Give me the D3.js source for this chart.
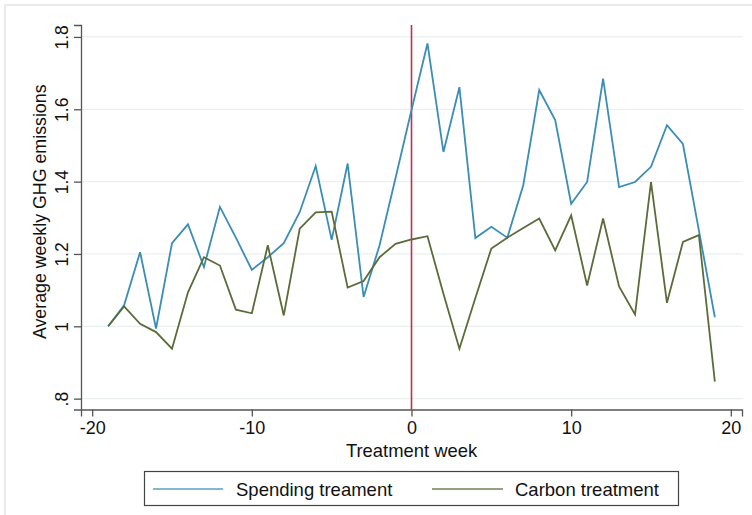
<!DOCTYPE html>
<html>
<head>
<meta charset="utf-8">
<script src="https://cdn.jsdelivr.net/npm/d3@7"></script>
<style>
  html, body { margin: 0; padding: 0; background: #fff; }
  svg { display: block; font-family: "Liberation Sans", Arial, sans-serif; }
</style>
</head>
<body>
<svg id="chart" width="752" height="515"></svg>
<script>
const weeks = d3.range(-19, 20);
const spending = [1.000, 1.058, 1.205, 0.994, 1.230, 1.282, 1.164, 1.330, 1.245, 1.156,
                  1.191, 1.230, 1.316, 1.443, 1.239, 1.450, 1.081, 1.224, 1.410, 1.598,
                  1.782, 1.482, 1.661, 1.244, 1.275, 1.245, 1.390, 1.653, 1.570, 1.339,
                  1.399, 1.685, 1.385, 1.399, 1.441, 1.556, 1.504, 1.265, 1.025];
const carbon = [1.000, 1.055, 1.007, 0.984, 0.938, 1.094, 1.191, 1.168, 1.046, 1.036,
                1.224, 1.030, 1.270, 1.315, 1.317, 1.107, 1.125, 1.191, 1.228, 1.240,
                1.249, 1.090, 0.938, 1.078, 1.215, 1.245, 1.272, 1.298, 1.210, 1.307,
                1.113, 1.298, 1.110, 1.033, 1.399, 1.065, 1.233, 1.252, 0.847];
const xTicks = [-20, -10, 0, 10, 20];
const xTickLabels = ["-20", "-10", "0", "10", "20"];
const yTicks = [0.8, 1.0, 1.2, 1.4, 1.6, 1.8];
const yTickLabels = [".8", "1", "1.2", "1.4", "1.6", "1.8"];
const seriesNames = ["Spending treament", "Carbon treatment"];
const seriesColors = ["#3b8db5", "#5b6b3a"];

const svg = d3.select("#chart");

// outer frame
svg.append("rect").attr("x", 5).attr("y", 5).attr("width", 800).attr("height", 600)
  .attr("fill", "none").attr("stroke", "#d6d6d6").attr("stroke-width", 1);

const x = d3.scaleLinear().domain([-20.7, 20.7]).range([81, 742]);
const y = d3.scaleLinear().domain([0.77, 1.833]).range([409.5, 25]);

// gridlines
svg.append("g").selectAll("line").data(yTicks).join("line")
  .attr("x1", 81).attr("x2", 743)
  .attr("y1", d => y(d)).attr("y2", d => y(d))
  .attr("stroke", "#eaeff2").attr("stroke-width", 1.2);

// x axis
const xAxis = svg.append("g").attr("transform", `translate(0,${y(0.77)})`)
  .call(d3.axisBottom(x).tickValues(xTicks).tickSize(7).tickPadding(5)
    .tickFormat((d, i) => xTickLabels[i]));
xAxis.select(".domain").attr("stroke", "#555").attr("stroke-width", 1.3);
xAxis.selectAll(".tick line").attr("stroke", "#555").attr("stroke-width", 1.3);
xAxis.selectAll(".tick text").attr("font-size", 18).attr("fill", "#111")
  .attr("font-family", "Liberation Sans, Arial, sans-serif");

// y axis
const yAxis = svg.append("g").attr("transform", `translate(81,0)`)
  .call(d3.axisLeft(y).tickValues(yTicks).tickSize(7).tickFormat((d, i) => yTickLabels[i]));
yAxis.select(".domain").attr("stroke", "#555").attr("stroke-width", 1.3);
yAxis.selectAll(".tick line").attr("stroke", "#555").attr("stroke-width", 1.3);
yAxis.selectAll(".tick text")
  .attr("font-size", 17.5).attr("fill", "#111")
  .attr("font-family", "Liberation Sans, Arial, sans-serif")
  .attr("text-anchor", "middle")
  .attr("x", 0).attr("dy", 0)
  .attr("transform", "translate(-13,0) rotate(-90)");

// axis titles
svg.append("text").attr("x", x(0)).attr("y", 457)
  .attr("text-anchor", "middle").attr("font-size", 18.4).attr("fill", "#111")
  .text("Treatment week");
svg.append("text")
  .attr("transform", `translate(46,${(y(0.8) + y(1.8)) / 2 - 6}) rotate(-90)`)
  .attr("text-anchor", "middle").attr("font-size", 17.8).attr("fill", "#111")
  .text("Average weekly GHG emissions");

// vertical reference line at 0
svg.append("line").attr("x1", x(0)).attr("x2", x(0)).attr("y1", 25).attr("y2", y(0.77))
  .attr("stroke", "#c0304f").attr("stroke-width", 1.6);

// series lines
const line = d3.line().x((d, i) => x(weeks[i])).y(d => y(d));
[spending, carbon].forEach((s, k) => {
  svg.append("path").datum(s).attr("d", line)
    .attr("fill", "none").attr("stroke", seriesColors[k]).attr("stroke-width", 1.8)
    .attr("stroke-linejoin", "miter");
});

// legend
const lg = svg.append("g");
lg.append("rect").attr("x", 144.5).attr("y", 471.5).attr("width", 534).attr("height", 34)
  .attr("fill", "#fff").attr("stroke", "#444").attr("stroke-width", 1.2);
const legendItems = [
  { x1: 153, x2: 223, tx: 236 },
  { x1: 432, x2: 503, tx: 515 }
];
legendItems.forEach((it, k) => {
  lg.append("line").attr("x1", it.x1).attr("x2", it.x2).attr("y1", 489).attr("y2", 489)
    .attr("stroke", seriesColors[k]).attr("stroke-width", 1.5).attr("stroke-opacity", 0.85);
  lg.append("text").attr("x", it.tx).attr("y", 496).attr("font-size", 18.5).attr("fill", "#111")
    .text(seriesNames[k]);
});
</script>
</body>
</html>
